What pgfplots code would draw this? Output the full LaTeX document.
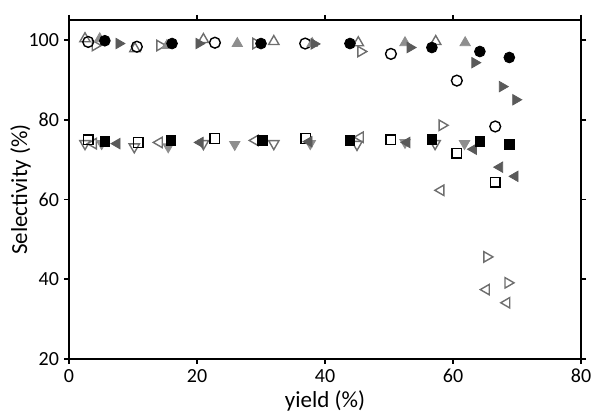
\documentclass[border=0pt]{standalone}
\usepackage{fontspec}
\setmainfont{Carlito}
\usepackage{pgfplots}
\pgfplotsset{compat=1.18}
\definecolor{dg}{HTML}{5A5A5A}
\definecolor{lg}{HTML}{8E8E8E}
\definecolor{og}{HTML}{6E6E6E}
\begin{document}
\begin{tikzpicture}
\begin{axis}[width=256pt,height=169.5pt,scale only axis,
  xmin=0,xmax=80,ymin=20,ymax=105,
  xtick={0,20,40,60,80},ytick={20,40,60,80,100},
  tick align=outside,major tick length=2.5pt,
  axis line style={line width=0.9pt},tick style={line width=0.8pt,black},
  tick label style={font=\fontsize{10}{11}\selectfont},
  xticklabel style={yshift=1pt},yticklabel style={xshift=1pt},
  /pgf/number format/assume math mode=true,
  xlabel={yield (\%)},ylabel={Selectivity (\%)},
  label style={font=\fontsize{11.5}{12}\selectfont},
  xlabel style={yshift=3pt},ylabel style={yshift=-8pt},
  only marks]
% open triangle right / left (gray outline)
\addplot[mark=triangle,mark size=3pt,mark options={rotate=-90,draw=og,line width=0.7pt}] coordinates {
(4.1,98.6) (14.2,98.6) (29.2,99.1) (45.6,97.1) (58.3,78.6) (65.3,45.6) (68.6,39.1)};
\addplot[mark=triangle,mark size=3pt,mark options={rotate=90,draw=og,line width=0.7pt}] coordinates {
(3.8,74) (14.1,74.3) (29.1,74.8) (45.5,75.6) (58.1,62.3) (65.2,37.4) (68.4,34.1)};
% open triangle up / down
\addplot[mark=triangle,mark size=3pt,mark options={draw=og,line width=0.7pt}] coordinates {
(2.5,100.3) (10.3,97.8) (21,100.1) (32,99.6) (45.2,99.3) (57.3,99.6)};
\addplot[mark=triangle,mark size=3pt,mark options={rotate=180,draw=og,line width=0.7pt}] coordinates {
(2.5,74) (10.2,73.2) (21,74) (32,74) (45,73.8) (57.2,74)};
% open circle / open square
\addplot[mark=o,mark size=2.7pt,mark options={draw=black,line width=0.7pt}] coordinates {
(3,99.5) (10.6,98.3) (22.8,99.3) (36.9,99.1) (50.3,96.5) (60.6,89.8) (66.6,78.3)};
\addplot[mark=square,mark size=2.4pt,mark options={draw=black,line width=0.7pt}] coordinates {
(3,75) (10.8,74.3) (22.8,75.3) (37,75.3) (50.3,75) (60.6,71.6) (66.6,64.3)};
% filled light gray triangle up / down
\addplot[mark=triangle*,mark size=3pt,mark options={draw=lg,fill=lg}] coordinates {
(4.8,100.3) (15.3,98.6) (26.3,99.1) (38,99.1) (52.5,99.3) (61.9,99.3)};
\addplot[mark=triangle*,mark size=3pt,mark options={rotate=180,draw=lg,fill=lg}] coordinates {
(5.1,74) (15.5,73.2) (25.9,73.8) (37.7,74) (52.5,74.3) (61.8,74)};
% filled dark gray triangle right / left
\addplot[mark=triangle*,mark size=3pt,mark options={rotate=-90,draw=dg,fill=dg}] coordinates {
(7.8,99.1) (20.3,99.1) (38.3,99) (53.3,98.1) (63.4,94.3) (67.7,88.3) (69.8,85)};
\addplot[mark=triangle*,mark size=3pt,mark options={rotate=90,draw=dg,fill=dg}] coordinates {
(7.5,74) (20.5,74.3) (37.5,74.5) (52.8,74.3) (63.2,72.6) (67.3,68.1) (69.7,65.8)};
% filled black circle / square
\addplot[mark=*,mark size=2.7pt,mark options={draw=black,fill=black}] coordinates {
(5.6,99.8) (16.1,99.1) (30,99.1) (43.9,99.1) (56.7,98.1) (64.2,97.1) (68.8,95.6)};
\addplot[mark=square*,mark size=2.4pt,mark options={draw=black,fill=black}] coordinates {
(5.6,74.6) (15.9,74.8) (30.2,74.8) (43.9,74.8) (56.7,75) (64.2,74.6) (68.8,73.8)};
\end{axis}
\pgfresetboundingbox
\path ([shift={(-34.5pt,-27.5pt)}]current axis.south west) rectangle ([shift={(5pt,10pt)}]current axis.north east);
\end{tikzpicture}
\end{document}
